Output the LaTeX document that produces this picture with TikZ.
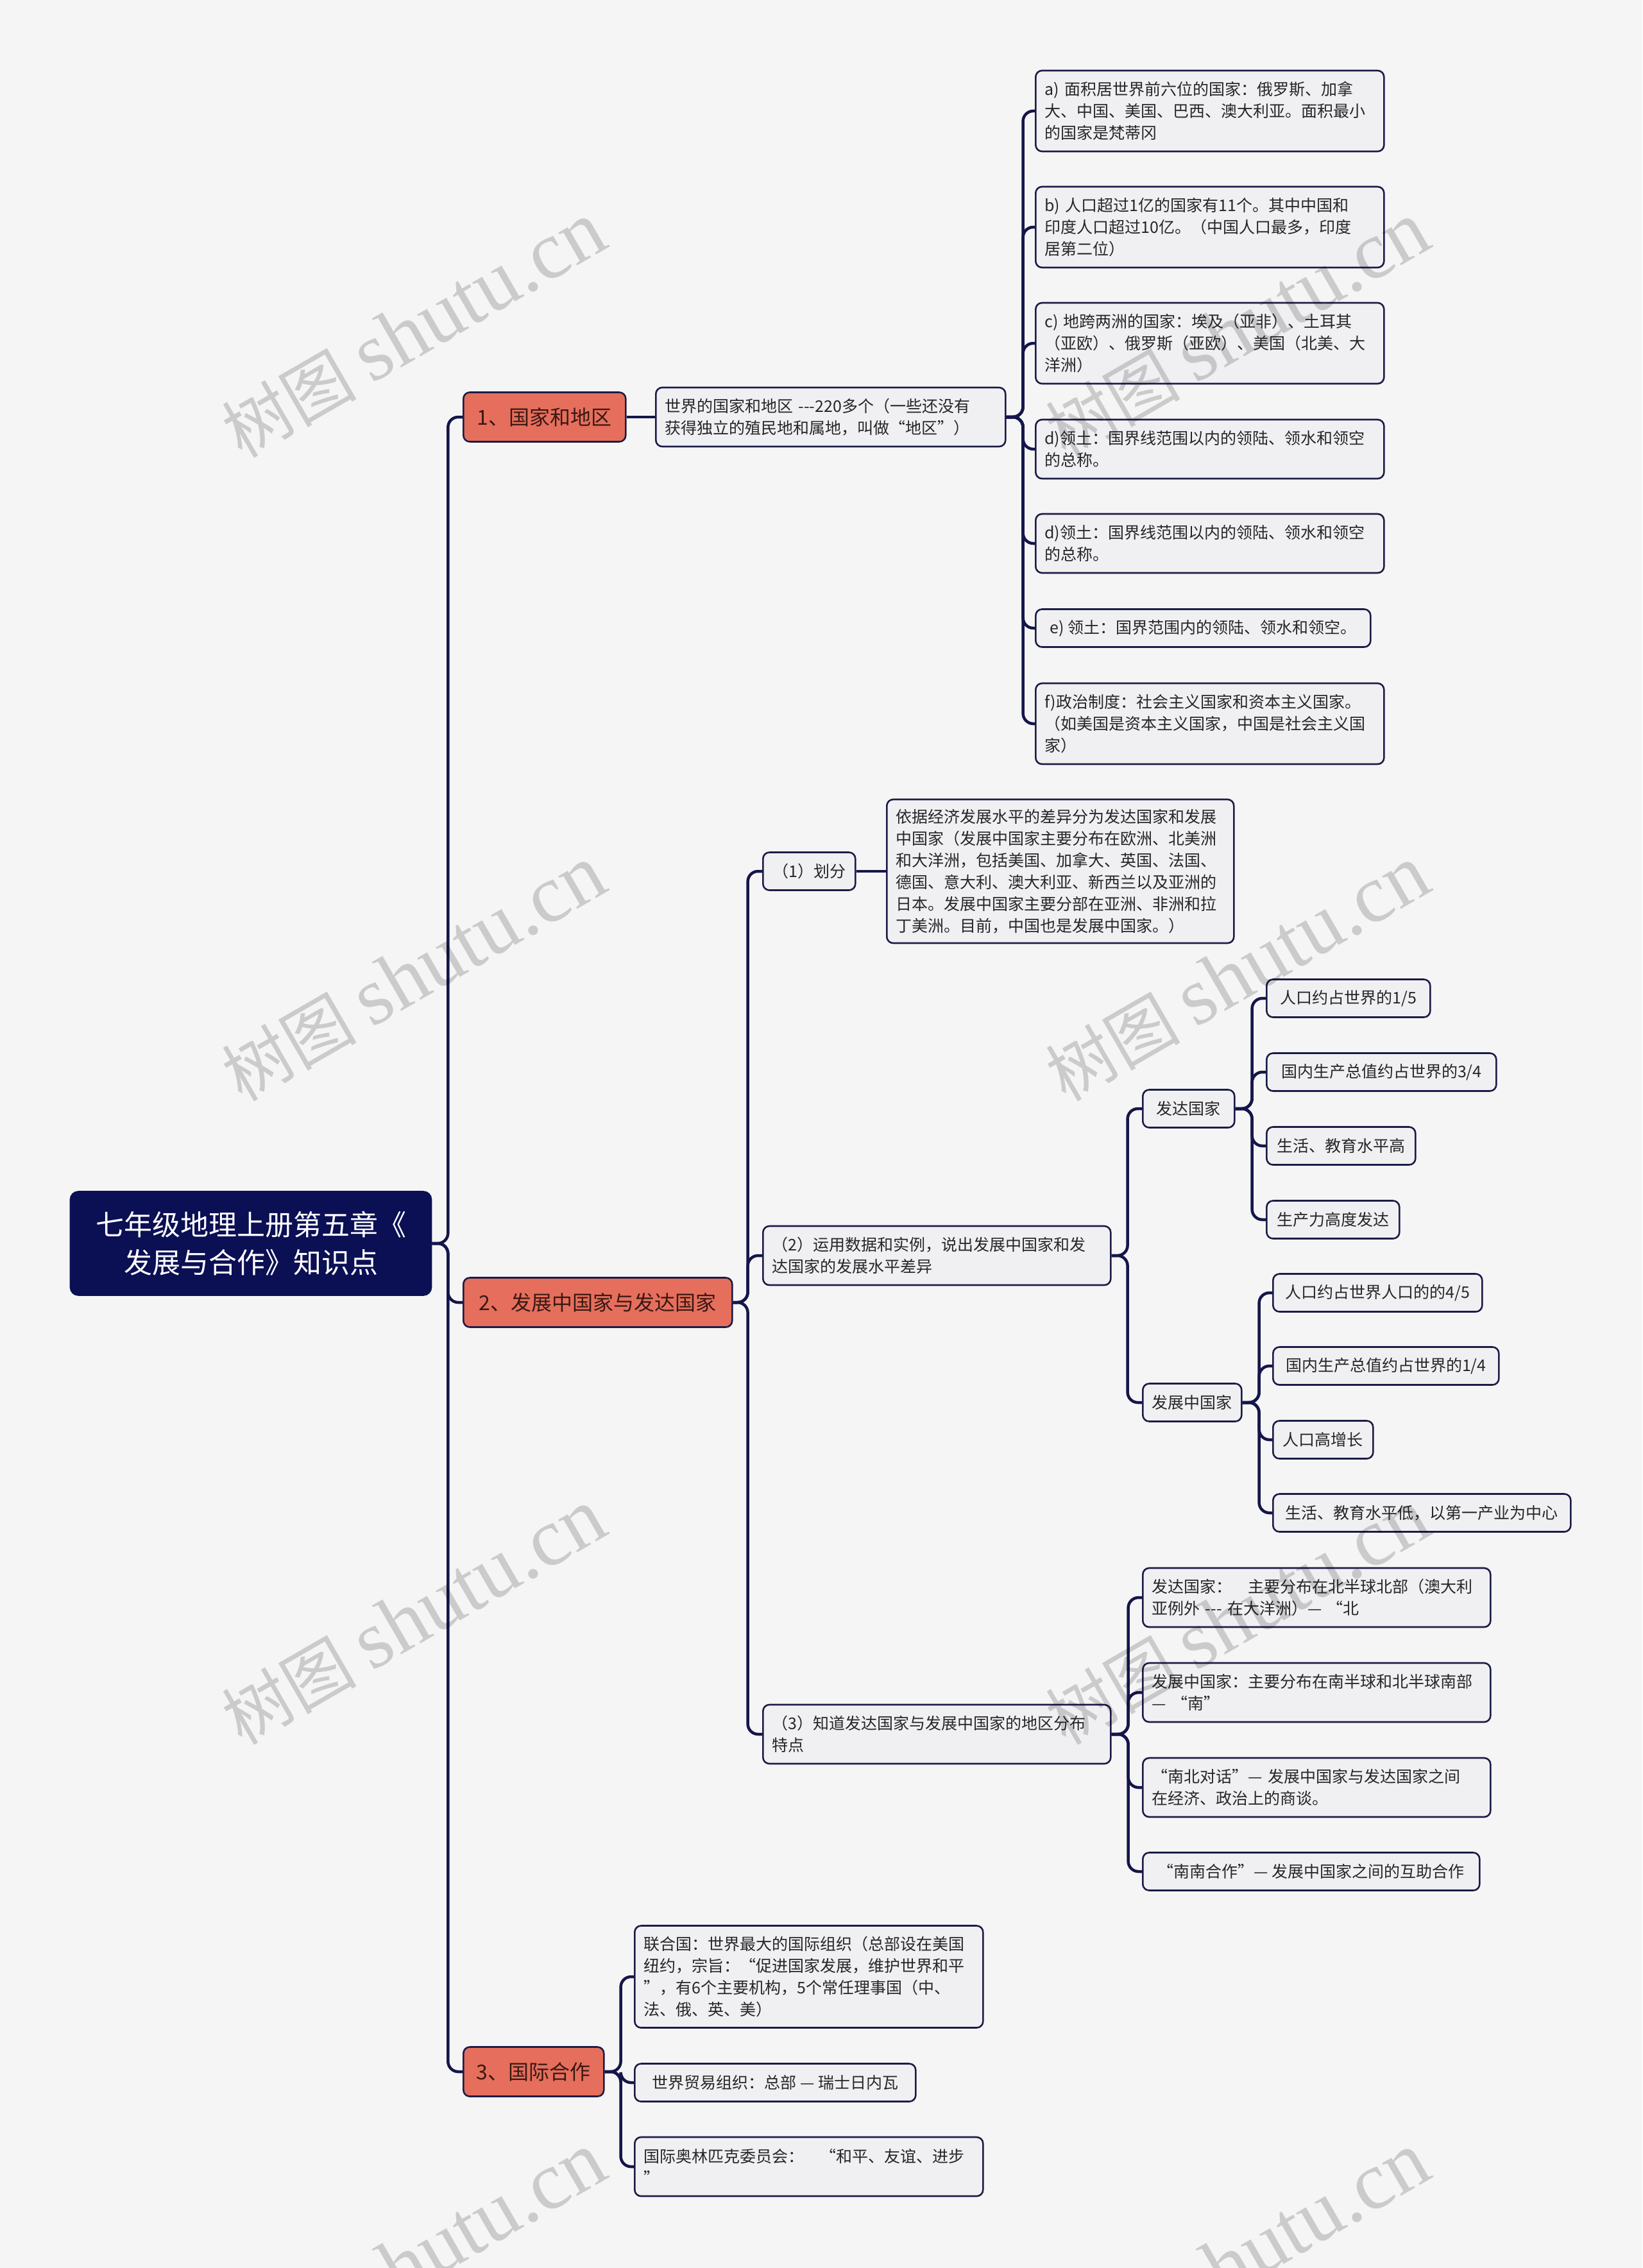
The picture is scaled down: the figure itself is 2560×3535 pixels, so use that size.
\documentclass[tikz,border=0pt]{standalone}
\usepackage{fontspec}
\setmainfont{Noto Sans CJK SC}
\newfontfamily\wmlatin{Liberation Serif}
\usepackage{tikz}
\usetikzlibrary{positioning}
\definecolor{pagebg}{RGB}{245,245,245}
\definecolor{rootnavy}{RGB}{11,15,84}
\definecolor{linknavy}{RGB}{20,22,74}
\definecolor{topiccoral}{RGB}{229,111,92}
\definecolor{topictext}{RGB}{58,24,20}
\definecolor{leaffill}{RGB}{240,240,243}
\definecolor{leafdraw}{RGB}{28,28,72}
\definecolor{leaftext}{RGB}{38,38,38}
\tikzset{
  basebox/.style={rectangle,rounded corners=10pt,line width=2.6pt,draw=leafdraw},
  rootnode/.style={basebox,fill=rootnavy,draw=rootnavy,text=white,align=center,rounded corners=12pt,font=\fontsize{44}{59}\selectfont,minimum width=562pt,minimum height=161pt},
  topicnode/.style={basebox,fill=topiccoral,text=topictext,anchor=west,font=\fontsize{32}{40}\selectfont,minimum height=77pt},
  leafnode/.style={basebox,fill=leaffill,text=leaftext,align=left,anchor=west,inner xsep=14pt,inner ysep=6pt,font=\fontsize{25}{34}\selectfont},
  ln1/.style={minimum height=59pt},
  ln2/.style={minimum height=92pt},
  ln3/.style={minimum height=126pt},
  link/.style={draw=linknavy,line width=4.5pt,rounded corners=16pt},
  wmark/.style={rotate=30,text=black,text opacity=0.17,font=\fontsize{105}{105}\selectfont}
}
\begin{document}
\begin{tikzpicture}[x=1pt,y=-1pt]
  \fill[pagebg] (0,0) rectangle (2560,3535);
  \useasboundingbox (0,0) rectangle (2560,3535);

  \node[rootnode] (root) at (391,1938) {七年级地理上册第五章《\\发展与合作》知识点};

  % topics
  \node[topicnode,minimum width=253pt] (t1) at (721,650) {1、国家和地区};
  \node[topicnode,minimum width=419pt] (t2) at (721,2030) {2、发展中国家与发达国家};
  \node[topicnode,minimum width=219pt] (t3) at (721,3229) {3、国际合作};

  % 1
  \node[leafnode,ln2,text width=517pt] (s1) at (1021,650) {世界的国家和地区 -\kern0pt-\kern0pt-220多个（一些还没有\\获得独立的殖民地和属地，叫做“地区”）};
  \node[leafnode,ln3,text width=515pt] (a1) at (1613,173) {a) 面积居世界前六位的国家：俄罗斯、加拿\\大、中国、美国、巴西、澳大利亚。面积最小\\的国家是梵蒂冈};
  \node[leafnode,ln3,text width=515pt] (a2) at (1613,354) {b) 人口超过1亿的国家有11个。其中中国和\\印度人口超过10亿。（中国人口最多，印度\\居第二位）};
  \node[leafnode,ln3,text width=515pt] (a3) at (1613,535) {c) 地跨两洲的国家：埃及（亚非）、土耳其\\（亚欧）、俄罗斯（亚欧）、美国（北美、大\\洋洲）};
  \node[leafnode,ln2,text width=515pt] (a4) at (1613,700) {d)领土：国界线范围以内的领陆、领水和领空\\的总称。};
  \node[leafnode,ln2,text width=515pt] (a5) at (1613,847) {d)领土：国界线范围以内的领陆、领水和领空\\的总称。};
  \node[leafnode,ln1,minimum width=522pt] (a6) at (1613,979) {e) 领土：国界范围内的领陆、领水和领空。};
  \node[leafnode,ln3,text width=515pt] (a7) at (1613,1128) {f)政治制度：社会主义国家和资本主义国家。\\（如美国是资本主义国家，中国是社会主义国\\家）};

  % 2
  \node[leafnode,ln1,minimum width=144pt] (p1) at (1188,1358) {（1）划分};
  \node[leafnode,minimum height=224pt,text width=513pt] (p1x) at (1381,1358) {依据经济发展水平的差异分为发达国家和发展\\中国家（发展中国家主要分布在欧洲、北美洲\\和大洋洲，包括美国、加拿大、英国、法国、\\德国、意大利、澳大利亚、新西兰以及亚洲的\\日本。发展中国家主要分部在亚洲、非洲和拉\\丁美洲。目前，中国也是发展中国家。）};
  \node[leafnode,ln2,text width=514pt] (p2) at (1188,1957) {（2）运用数据和实例，说出发展中国家和发\\达国家的发展水平差异};
  \node[leafnode,ln1,minimum width=143pt] (dev) at (1780,1728) {发达国家};
  \node[leafnode,ln1,minimum width=154pt] (dvl) at (1780,2186) {发展中国家};
  \node[leafnode,ln1,minimum width=255pt] (d1) at (1973,1556) {人口约占世界的1/5};
  \node[leafnode,ln1,minimum width=358pt] (d2) at (1973,1671) {国内生产总值约占世界的3/4};
  \node[leafnode,ln1,minimum width=232pt] (d3) at (1973,1786) {生活、教育水平高};
  \node[leafnode,ln1,minimum width=207pt] (d4) at (1973,1901) {生产力高度发达};
  \node[leafnode,ln1,minimum width=326pt] (g1) at (1983,2015) {人口约占世界人口的的4/5};
  \node[leafnode,ln1,minimum width=352pt] (g2) at (1983,2129) {国内生产总值约占世界的1/4};
  \node[leafnode,ln1,minimum width=156pt] (g3) at (1983,2244) {人口高增长};
  \node[leafnode,ln1,minimum width=464pt] (g4) at (1983,2358) {生活、教育水平低，以第一产业为中心};
  \node[leafnode,ln2,text width=514pt] (p3) at (1188,2703) {（3）知道发达国家与发展中国家的地区分布\\特点};
  \node[leafnode,ln2,text width=514pt] (q1) at (1780,2490) {发达国家：　主要分布在北半球北部（澳大利\\亚例外 -\kern0pt-\kern0pt- 在大洋洲）— “北};
  \node[leafnode,ln2,text width=514pt] (q2) at (1780,2638) {发展中国家：主要分布在南半球和北半球南部\\— “南”};
  \node[leafnode,ln2,text width=514pt] (q3) at (1780,2786) {“南北对话”— 发展中国家与发达国家之间\\在经济、政治上的商谈。};
  \node[leafnode,ln1,minimum width=525pt] (q4) at (1780,2917) {“南南合作”— 发展中国家之间的互助合作};

  % 3
  \node[leafnode,minimum height=159pt,text width=515pt] (r1) at (988,3081) {联合国：世界最大的国际组织（总部设在美国\\纽约，宗旨：“促进国家发展，维护世界和平\\”，有6个主要机构，5个常任理事国（中、\\法、俄、英、美）};
  \node[leafnode,ln1,minimum width=438pt] (r2) at (988,3246) {世界贸易组织：总部 — 瑞士日内瓦};
  \node[leafnode,ln2,text width=515pt] (r3) at (988,3377) {国际奥林匹克委员会：　“和平、友谊、进步\\”};

  % links
  \foreach \k in {t1,t2,t3} \draw[link] (root.east) -- ++(25,0) |- (\k.west);
  \draw[link] (t1) -- (s1);
  \foreach \k in {a1,a2,a3,a4,a5,a6,a7} \draw[link] (s1.east) -- ++(26,0) |- (\k.west);
  \foreach \k in {p1,p2,p3} \draw[link] (t2.east) -- ++(23,0) |- (\k.west);
  \draw[link] (p1) -- (p1x);
  \foreach \k in {dev,dvl} \draw[link] (p2.east) -- ++(25,0) |- (\k.west);
  \foreach \k in {d1,d2,d3,d4} \draw[link] (dev.east) -- ++(26,0) |- (\k.west);
  \foreach \k in {g1,g2,g3,g4} \draw[link] (dvl.east) -- ++(26,0) |- (\k.west);
  \foreach \k in {q1,q2,q3,q4} \draw[link] (p3.east) -- ++(26,0) |- (\k.west);
  \foreach \k in {r1,r2,r3} \draw[link] (t3.east) -- ++(25,0) |- (\k.west);

  % watermark
  \foreach \wx in {645,1929}
    \foreach \wy in {515,1518,2521,3524}
      \node[wmark] (wm\wx-\wy) at (\wx,\wy) {树图 {\wmlatin\fontsize{128}{128}\selectfont shutu.cn}};
\end{tikzpicture}
\end{document}
